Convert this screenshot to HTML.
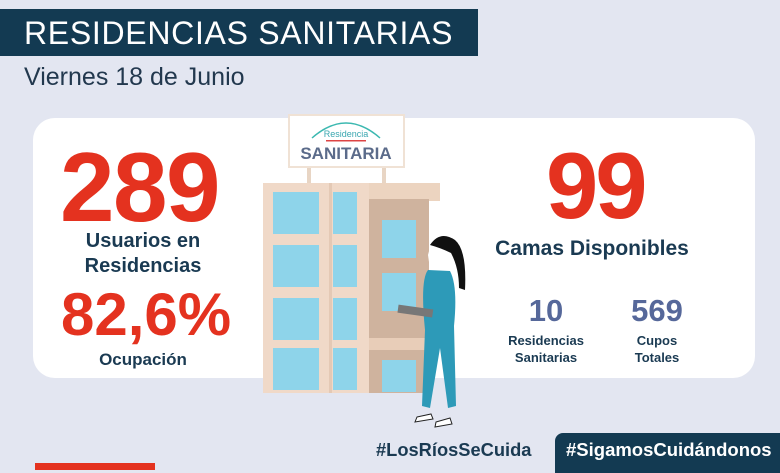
<!DOCTYPE html>
<html><head><style>
body{margin:0;width:780px;height:470px;overflow:hidden;background:#e3e6f1;font-family:"Liberation Sans",sans-serif;position:relative}
.a{position:absolute}
.b{font-weight:bold}
.red{color:#e4321f}
.nv{color:#1a3a52}
.sl{color:#56689a}
.c{text-align:center}
</style></head><body>
<div class="a" style="left:0;top:9px;width:478px;height:47px;background:#133a52"></div>
<div class="a" style="left:24px;top:13px;color:#fff;font-size:32px;letter-spacing:0.7px;line-height:40px">RESIDENCIAS SANITARIAS</div>
<div class="a nv" style="left:24px;top:60px;font-size:25px;line-height:34px;color:#22384e">Viernes 18 de Junio</div>
<div class="a" style="left:33px;top:118px;width:722px;height:260px;background:#fff;border-radius:22px"></div>

<div class="a red b" style="left:60px;top:137px;font-size:98px;line-height:100px;letter-spacing:-1.5px">289</div>
<div class="a nv b c" style="left:50px;top:229px;width:186px;font-size:20px;line-height:25px">Usuarios en<br>Residencias</div>
<div class="a red b" style="left:61px;top:283px;font-size:60px;line-height:64px;letter-spacing:0px">82,6%</div>
<div class="a nv b c" style="left:50px;top:350px;width:186px;font-size:17px;line-height:20px">Ocupación</div>

<div class="a red b" style="left:546px;top:138px;font-size:94px;line-height:96px;letter-spacing:-3px">99</div>
<div class="a nv b c" style="left:480px;top:236px;width:224px;font-size:21px;line-height:26px">Camas Disponibles</div>
<div class="a sl b c" style="left:506px;top:293px;width:80px;font-size:31px;line-height:36px">10</div>
<div class="a sl b c" style="left:612px;top:293px;width:90px;font-size:31px;line-height:36px">569</div>
<div class="a nv b c" style="left:496px;top:332px;width:100px;font-size:13px;line-height:17px">Residencias<br>Sanitarias</div>
<div class="a nv b c" style="left:607px;top:332px;width:100px;font-size:13px;line-height:17px">Cupos<br>Totales</div>

<svg class="a" style="left:250px;top:110px" width="250" height="360">
<rect x="57" y="55" width="4" height="20" fill="#e8d5c4"/><rect x="132" y="55" width="4" height="20" fill="#e8d5c4"/>
<rect x="39" y="5" width="115" height="52" fill="#fff" stroke="#f0e2d5" stroke-width="2"/>
<path d="M62 28 Q96 -2 130 28" fill="none" stroke="#3bb8b0" stroke-width="1.5"/>
<text x="96" y="27" font-size="9" fill="#3aa7b0" text-anchor="middle" font-family="Liberation Sans">Residencia</text>
<rect x="76" y="30" width="40" height="1.5" fill="#d44"/>
<text x="96" y="49" font-size="17" font-weight="bold" fill="#5b6b8a" text-anchor="middle" font-family="Liberation Sans">SANITARIA</text>
<rect x="13" y="73" width="107" height="210" fill="#f0d9c8"/>
<rect x="119" y="73" width="71" height="18" fill="#ecd4c0"/>
<rect x="119" y="89" width="60" height="194" fill="#cfb39e"/>
<rect x="119" y="228" width="60" height="12" fill="#e8cdb8"/>
<rect x="79" y="73" width="3" height="210" fill="#e4c9b5"/>
<g fill="#8ed4ea">
<rect x="23" y="82" width="46" height="42"/><rect x="23" y="135" width="46" height="42"/><rect x="23" y="188" width="46" height="42"/><rect x="23" y="238" width="46" height="42"/>
<rect x="83" y="82" width="24" height="42"/><rect x="83" y="135" width="24" height="42"/><rect x="83" y="188" width="24" height="42"/><rect x="83" y="238" width="24" height="42"/>
<rect x="132" y="110" width="34" height="38"/><rect x="132" y="163" width="34" height="38"/><rect x="132" y="250" width="34" height="32"/>
</g>
<path d="M195 130 q-14 0 -17 15 l2 14 q8 4 14 -2 z" fill="#fff"/>
<path d="M180 135 q10 -15 25 -5 q12 10 10 50 l-6 -2 q0 -20 -8 -35 q-10 -5 -21 -8z" fill="#111"/>
<path d="M178 160 q-8 10 -3 60 l-3 76 l8 2 l10 -60 l8 60 l8 -2 l-2 -80 q4 -40 -4 -55 z" fill="#2d9ab8"/>
<rect x="148" y="197" width="35" height="8" fill="#777" transform="rotate(8 165 200)"/>
<path d="M167 307 l14 -3 l2 5 l-18 3z M186 312 l14 -4 l2 6 l-17 3z" fill="#fff" stroke="#222"/>
</svg>

<div class="a b" style="left:376px;top:438px;font-size:18.3px;line-height:24px;color:#1a3a52">#LosRíosSeCuida</div>
<div class="a" style="left:555px;top:433px;width:240px;height:40px;background:#133a52;border-radius:8px 0 0 0"></div>
<div class="a b" style="left:566px;top:438px;font-size:18.5px;line-height:24px;color:#fff">#SigamosCuidándonos</div>
<div class="a" style="left:35px;top:463px;width:120px;height:7px;background:#e4321f"></div>
</body></html>
